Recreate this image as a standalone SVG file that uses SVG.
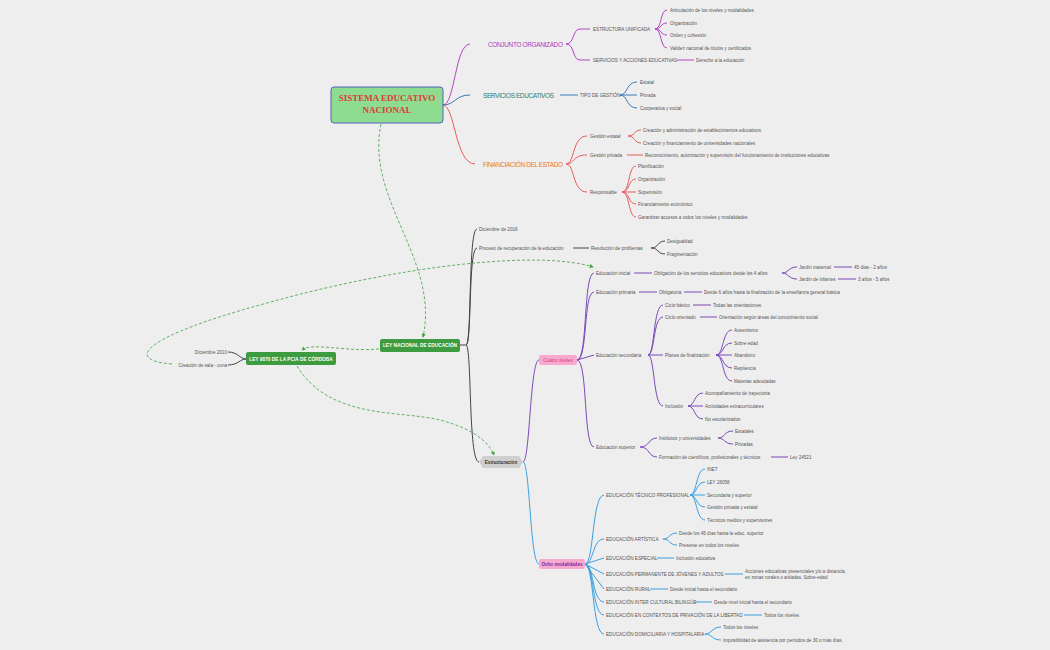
<svg xmlns="http://www.w3.org/2000/svg" width="1050" height="650" viewBox="0 0 1050 650">
<defs>
<marker id="ga" viewBox="0 0 6 6" refX="5" refY="3" markerWidth="5" markerHeight="5" orient="auto"><path d="M0 0L6 3L0 6z" style="fill:#3fa040;stroke:none"/></marker>
<style>
text{font-family:"Liberation Sans",Arial,sans-serif;font-size:4.6px;fill:#555}
.h{font-size:6.5px}
.p{stroke:#b344c4}.b{stroke:#3a7ab8}.r{stroke:#e85a5a}.k{stroke:#444}.v{stroke:#7a4ab8}.c{stroke:#3aa0e0}
#connectors path{fill:none;stroke-width:1}
#connectors .d{stroke:#3fa040;stroke-dasharray:3 2;stroke-width:0.8;marker-end:url(#ga)}
.w{fill:#fff;font-weight:bold;font-size:4.8px}
</style>
</defs>
<rect width="1050" height="650" fill="#eeeeee"/>
<g id="connectors">
<path class="p" d="M443 105C455 105 455 44 470 44"/>
<path class="b" d="M443 105C455 105 455 95 470 95"/>
<path class="r" d="M443 105C455 105 455 164 475 164"/>
<path class="p" d="M566 44C575 44 572 29 580 29L590 29M566 44C575 44 572 60 580 60L590 60"/>
<path class="p" d="M655 29C662 29 660 10 667 10M655 29C662 29 660 23 667 23M655 29C662 29 660 35 667 35M655 29C662 29 660 48 667 48M677 60L694 60"/>
<path class="b" d="M560 95L578 95M620 95C628 95 626 82 637 82M620 95L637 95M620 95C628 95 626 108 637 108"/>
<path class="r" d="M566 164C575 164 572 136 587 136M566 164C575 164 572 155 587 155M566 164C575 164 572 192 587 192"/>
<path class="r" d="M628 136C635 136 634 130 641 130M628 136C635 136 634 143 641 143M627 155L643 155"/>
<path class="r" d="M622 192C630 192 628 166 636 166M622 192C630 192 628 179 636 179M622 192L636 192M622 192C630 192 628 204 636 204M622 192C630 192 628 217 636 217"/>
<path class="k" d="M460 345L466 345C472 345 468 229 477 229M466 345C472 345 468 248 477 248M466 345C472 345 468 462 479 462"/>
<path class="k" d="M573 248L589 248M651 248C659 248 657 241 665 241M651 248C659 248 657 254 665 254"/>
<path class="k" d="M246 359C240 359 238 352 228 352M246 359C240 359 238 365 228 365"/>
<path class="v" d="M523 462C530 462 530 360 539 360"/>
<path class="c" d="M523 462C530 462 530 564 539 564"/>
<path class="v" d="M577 360C588 360 583 273 594 273M577 360C588 360 583 292 594 292M577 360L594 355M577 360C588 360 583 447 594 447"/>
<path class="v" d="M634 273L652 273M782 273C789 273 788 267 797 267M782 273C789 273 788 279 797 279M834 267L852 267M838 279L856 279"/>
<path class="v" d="M639 292L657 292M684 292L702 292"/>
<path class="v" d="M648 355C655 355 653 305 663 305M648 355C655 355 653 317 663 317M648 355L663 355M648 355C655 355 653 406 663 406"/>
<path class="v" d="M693 305L711 305M700 317L717 317"/>
<path class="v" d="M716 355C724 355 722 330 732 330M716 355C724 355 722 343 732 343M716 355L732 355M716 355C724 355 722 368 732 368M716 355C724 355 722 381 732 381"/>
<path class="v" d="M688 406C695 406 694 393 703 393M688 406L703 406M688 406C695 406 694 419 703 419"/>
<path class="v" d="M640 447C650 447 648 438 657 438M640 447C650 447 648 457 657 457M718 438C725 438 724 431 733 431M718 438C725 438 724 444 733 444M771 457L788 457"/>
<path class="c" d="M585 564C594 564 592 495 604 495M585 564C594 564 592 539 604 539M585 564L604 558M585 564L604 574M585 564L604 589M585 564C594 564 592 602 604 602M585 564C594 564 592 615 604 615M585 564C594 564 592 634 604 634"/>
<path class="c" d="M690 495C697 495 696 469 705 469M690 495C697 495 696 482 705 482M690 495L705 495M690 495C697 495 696 507 705 507M690 495C697 495 696 520 705 520"/>
<path class="c" d="M663 539C670 539 669 533 677 533M663 539C670 539 669 545 677 545M657 558L674 558M725 574L743 574M650 589L668 589M695 602L712 602M744 615L762 615"/>
<path class="c" d="M705 634C712 634 712 627 721 627M705 634C712 634 712 640 721 640"/>
<path class="d" d="M381 124C365 200 440 260 423 337"/>
<path class="d" d="M379 349C345 352 312 342 302 350"/>
<path class="d" d="M172 364C120 360 150 335 260 305C400 265 540 250 593 267"/>
<path class="d" d="M297 366C330 420 400 410 440 420C470 428 488 440 494 455"/>
</g>
<g id="root"><rect x="331" y="87" width="112" height="36" rx="3" fill="#8ddc8f" stroke="#5560c0" stroke-width="1"/>
<text x="387" y="101" text-anchor="middle" style="font-family:'Liberation Serif',serif;font-size:9px;font-weight:bold;fill:#e03a3a">SISTEMA EDUCATIVO</text>
<text x="387" y="113" text-anchor="middle" style="font-family:'Liberation Serif',serif;font-size:9px;font-weight:bold;fill:#e03a3a">NACIONAL</text></g>
<g id="conjunto"><text class="h" x="488" y="46.5" style="fill:#b03ac0" textLength="75">CONJUNTO ORGANIZADO</text></g>
<g id="servicios"><text class="h" x="483" y="97.5" style="fill:#2a7a7a" textLength="71">SERVICIOS EDUCATIVOS</text></g>
<g id="financiacion"><text class="h" x="483" y="166.5" style="fill:#f07820" textLength="80">FINANCIACIÓN DEL ESTADO</text></g>
<g id="t1">
<text x="593" y="31">ESTRUCTURA UNIFICADA</text>
<text x="593" y="62">SERVICIOS Y ACCIONES EDUCATIVAS</text>
<text x="670" y="12">Articulación de los niveles y modalidades</text>
<text x="670" y="25">Organización</text>
<text x="670" y="37">Orden y cohesión</text>
<text x="670" y="50">Validez nacional de títulos y certificados</text>
<text x="696" y="62">Derecho a la educación</text>
<text x="580" y="97">TIPO DE GESTIÓN</text>
<text x="640" y="84">Estatal</text>
<text x="640" y="97">Privada</text>
<text x="640" y="110">Cooperativa y social</text>
<text x="590" y="138">Gestión estatal</text>
<text x="590" y="157">Gestión privada</text>
<text x="590" y="194">Responsable</text>
<text x="643" y="132">Creación y administración de establecimientos educativos</text>
<text x="643" y="145">Creación y financiamiento de universidades nacionales</text>
<text x="645" y="157">Reconocimiento, autorización y supervisión del funcionamiento de instituciones educativas</text>
<text x="638" y="168">Planificación</text>
<text x="638" y="181">Organización</text>
<text x="638" y="194">Supervisión</text>
<text x="638" y="206">Financiamiento económico</text>
<text x="638" y="219">Garantizar accesos a todos los niveles y modalidades</text>
</g>
<g id="leynac"><rect x="380" y="339" width="80" height="13" rx="2" fill="#3d9b40"/><text class="w" x="420" y="347" text-anchor="middle">LEY NACIONAL DE EDUCACIÓN</text></g>
<g id="ley9870"><rect x="246" y="352" width="90" height="13" rx="2" fill="#3d9b40"/><text class="w" x="291" y="360.5" text-anchor="middle">LEY 9870 DE LA PCIA DE CÓRDOBA</text></g>
<g id="t2">
<text x="227" y="354" text-anchor="end">Diciembre 2010</text>
<text x="227" y="367" text-anchor="end">Creación de sala - cuna</text>
<text x="479" y="231">Diciembre de 2016</text>
<text x="479" y="250">Proceso de recuperación de la educación</text>
<text x="591" y="250">Resolución de problemas</text>
<text x="667" y="243">Desigualdad</text>
<text x="667" y="256">Fragmentación</text>
</g>
<g id="estructuracion"><path d="M483 456H519L523 462L519 468H483L479 462Z" style="fill:#cfcfcf;stroke:none"/><text x="501" y="464" text-anchor="middle" style="font-weight:bold;fill:#333">Estructuración</text></g>
<g id="cuatro"><rect x="539" y="355" width="38" height="10" rx="2" fill="#f9a8d0"/><text x="558" y="362" text-anchor="middle" style="fill:#d04080">Cuatro niveles</text></g>
<g id="ocho"><rect x="539" y="559" width="46" height="10" rx="2" fill="#f9a8d0"/><text x="562" y="566" text-anchor="middle" style="fill:#7030a0;font-weight:bold">Ocho modalidades</text></g>
<g id="t3">
<text x="596" y="275">Educación inicial</text>
<text x="654" y="275">Obligación de los servicios educativos desde los 4 años</text>
<text x="799" y="269">Jardín maternal</text>
<text x="854" y="269">45 días - 2 años</text>
<text x="799" y="281">Jardín de infantes</text>
<text x="858" y="281">3 años - 5 años</text>
<text x="596" y="294">Educación primaria</text>
<text x="659" y="294">Obligatoria</text>
<text x="704" y="294">Desde 6 años hasta la finalización de la enseñanza general básica</text>
<text x="596" y="357">Educación secundaria</text>
<text x="665" y="307">Ciclo básico</text>
<text x="713" y="307">Todas las orientaciones</text>
<text x="665" y="319">Ciclo orientado</text>
<text x="719" y="319">Orientación según áreas del conocimiento social</text>
<text x="665" y="357">Planes de finalización</text>
<text x="734" y="332">Ausentismo</text>
<text x="734" y="345">Sobre edad</text>
<text x="734" y="357">Abandono</text>
<text x="734" y="370">Repitencia</text>
<text x="734" y="383">Materias adeudadas</text>
<text x="665" y="408">Inclusión</text>
<text x="705" y="395">Acompañamiento de trayectoria</text>
<text x="705" y="408">Actividades extracurriculares</text>
<text x="705" y="421">No escolarizados</text>
<text x="596" y="449">Educación superior</text>
<text x="659" y="440">Institutos y universidades</text>
<text x="735" y="433">Estatales</text>
<text x="735" y="446">Privadas</text>
<text x="659" y="459">Formación de científicos, profesionales y técnicos</text>
<text x="790" y="459">Ley 24521</text>
</g>
<g id="t4">
<text x="606" y="497">EDUCACIÓN TÉCNICO PROFESIONAL</text>
<text x="707" y="471">INET</text>
<text x="707" y="484">LEY 26058</text>
<text x="707" y="497">Secundaria y superior</text>
<text x="707" y="509">Gestión privada y estatal</text>
<text x="707" y="522">Técnicos medios y supervisores</text>
<text x="606" y="541">EDUCACIÓN ARTÍSTICA</text>
<text x="679" y="535">Desde los 45 días hasta la educ. superior</text>
<text x="679" y="547">Presente en todos los niveles</text>
<text x="606" y="560">EDUCACIÓN ESPECIAL</text>
<text x="676" y="560">Inclusión educativa</text>
<text x="606" y="576">EDUCACIÓN PERMANENTE DE JÓVENES Y ADULTOS</text>
<text x="745" y="573">Acciones educativas presenciales y/o a distancia,</text>
<text x="745" y="579">en zonas rurales o aisladas. Sobre-edad</text>
<text x="606" y="591">EDUCACIÓN RURAL</text>
<text x="670" y="591">Desde inicial hasta el secundario</text>
<text x="606" y="604">EDUCACIÓN INTER CULTURAL BILINGÜE</text>
<text x="714" y="604">Desde nivel inicial hasta el secundario</text>
<text x="606" y="617">EDUCACIÓN EN CONTEXTOS DE PRIVACIÓN DE LA LIBERTAD</text>
<text x="764" y="617">Todos los niveles</text>
<text x="606" y="636">EDUCACIÓN DOMICILIARIA Y HOSPITALARIA</text>
<text x="723" y="629">Todos los niveles</text>
<text x="723" y="642">Imposibilidad de asistencia por períodos de 30 o más días.</text>
</g>
</svg>
